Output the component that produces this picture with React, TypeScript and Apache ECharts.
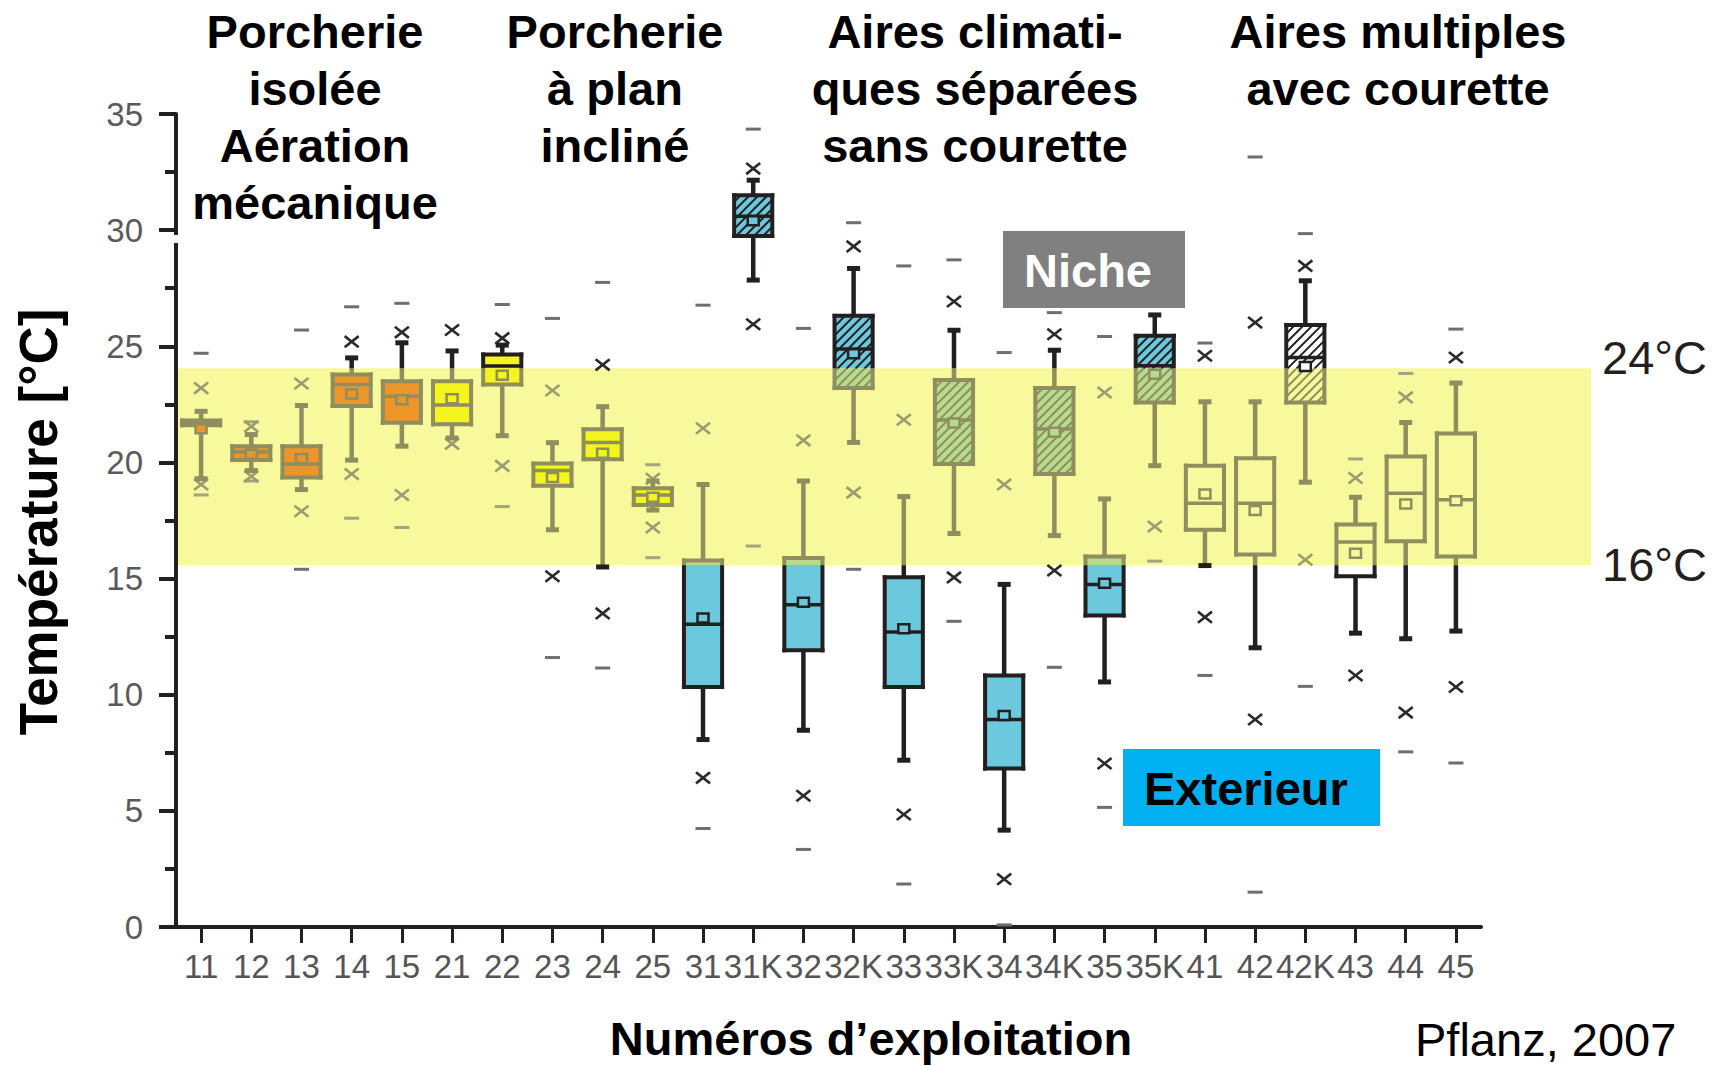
import React, { useEffect, useRef } from "react";
import * as echarts from "echarts";

// ---------- data ----------
const categories = ["11", "12", "13", "14", "15", "21", "22", "23", "24", "25", "31", "31K", "32", "32K", "33", "33K", "34", "34K", "35", "35K", "41", "42", "42K", "43", "44", "45"];
const whiskerLow = [19.3, 19.65, 18.83, 20.1, 20.7, 21.05, 21.15, 17.1, 15.5, 17.95, 8.07, 27.85, 8.47, 20.86, 7.18, 16.94, 4.17, 16.85, 10.55, 19.86, 15.56, 12.02, 19.15, 12.65, 12.41, 12.74];
const q1 = [21.6, 20.1, 19.35, 22.43, 21.71, 21.64, 23.35, 19.0, 20.14, 18.17, 10.33, 29.75, 11.91, 23.2, 10.33, 19.93, 6.82, 19.5, 13.41, 22.58, 17.1, 16.04, 22.58, 15.1, 16.61, 15.95];
const median = [21.7, 20.45, 19.93, 23.35, 22.85, 22.47, 24.15, 19.65, 20.86, 18.6, 13.03, 30.6, 13.87, 24.88, 12.7, 21.83, 8.93, 21.44, 14.75, 24.16, 18.24, 18.24, 24.52, 16.57, 18.67, 18.39];
const q3 = [21.8, 20.7, 20.7, 23.79, 23.5, 23.5, 24.65, 19.95, 21.43, 18.89, 15.78, 31.5, 15.89, 26.31, 15.06, 23.55, 10.83, 23.2, 15.95, 25.45, 19.86, 20.18, 25.92, 17.33, 20.25, 21.25];
const whiskerHigh = [22.2, 21.2, 22.45, 24.5, 25.15, 24.8, 25.05, 20.85, 22.4, 19.2, 19.05, 32.15, 19.2, 28.35, 18.53, 25.69, 14.75, 24.83, 18.43, 26.35, 22.61, 22.61, 27.82, 18.5, 21.72, 23.42];
const mean = [21.45, 20.35, 20.17, 22.95, 22.7, 22.74, 23.75, 19.35, 20.4, 18.5, 13.3, 30.4, 13.98, 24.68, 12.84, 21.7, 9.1, 21.3, 14.8, 23.8, 18.64, 17.93, 24.13, 16.09, 18.21, 18.35];
const crossLow = [19.05, 19.4, 17.9, 19.5, 18.6, 20.8, 19.85, 15.1, 13.5, 17.2, 6.42, 25.95, 5.65, 18.7, 4.84, 15.05, 2.06, 15.35, 7.04, 17.24, 13.34, 8.93, 15.81, 10.83, 9.23, 10.33];
const crossHigh = [23.2, 21.55, 23.4, 25.2, 25.6, 25.7, 25.35, 23.1, 24.2, 19.3, 21.47, 32.65, 20.95, 29.3, 21.84, 26.93, 19.05, 25.52, 23.01, 27.6, 24.59, 26.02, 28.46, 19.33, 22.8, 24.52];
const dashLow: (number | null)[] = [18.6, 19.2, 15.4, 17.6, 17.2, null, 18.1, 11.6, 11.15, 15.9, 4.24, 16.4, 3.34, 15.4, 1.85, 13.16, 0.09, 11.18, 5.15, 15.75, 10.83, 1.5, 10.36, null, 7.54, 7.06];
const dashHigh: (number | null)[] = [24.7, 21.75, 25.7, 26.7, 26.85, null, 26.8, 26.2, 27.75, 19.9, 26.77, 34.35, 25.77, 30.32, 28.46, 28.72, 24.73, 26.45, 25.42, 29.0, 25.14, 33.15, 29.85, 20.15, 23.83, 25.74];
const fillKind = ["orange", "orange", "orange", "orange", "orange", "yellow", "yellow", "yellow", "yellow", "yellow", "blue", "blue", "blue", "blue", "blue", "blue", "blue", "blue", "blue", "blue", "white", "white", "white", "white", "white", "white"];
const hatched = [false, false, false, false, false, false, false, false, false, false, false, true, false, true, false, true, false, true, false, true, false, false, true, false, false, false];
const comfortBand = [15.58, 24.05];
const bandLabels = ["24°C", "16°C"];
const groupTitles = [
  "Porcherie\nisolée\nAération\nmécanique",
  "Porcherie\nà plan\nincliné",
  "Aires climati-\nques séparées\nsans courette",
  "Aires multiples\navec courette",
];
const yAxisTitle = "Température [°C]";
const xAxisTitle = "Numéros d’exploitation";
const sourceText = "Pflanz, 2007";
const boxLabels = ["Niche", "Exterieur"];

// ---------- styles ----------
const FONT = '"Liberation Sans", Arial, Helvetica, sans-serif';
const LINE_OUT = "#231F20";
const LINE_IN = "#8F8E5E";
const CROSS_OUT = "#2A2A2A";
const CROSS_IN = "#9B9B72";
const DASH_OUT = "#6E6E6E";
const DASH_IN = "#A4A482";
const BAND_COLOR = "#F8F99C";
const FILLS: Record<string, [string, string]> = {
  orange: ["#EC962A", "#EC962A"],
  yellow: ["#F4F41E", "#F4F41E"],
  blue: ["#6CC8DC", "#B6DB8D"],
  white: ["#FFFFFF", BAND_COLOR],
};

const BL = comfortBand[0];
const BH = comfortBand[1];
const inBand = (v: number) => v >= BL && v <= BH;

function pieces(a: number, b: number) {
  const lo0 = Math.min(a, b);
  const hi0 = Math.max(a, b);
  const cuts = [lo0];
  for (const c of [BL, BH]) if (c > lo0 && c < hi0) cuts.push(c);
  cuts.push(hi0);
  const out: { lo: number; hi: number; inBand: boolean }[] = [];
  for (let k = 0; k < cuts.length - 1; k++) {
    const lo = cuts[k];
    const hi = cuts[k + 1];
    out.push({ lo, hi, inBand: inBand((lo + hi) / 2) });
  }
  return out;
}

function renderItem(params: any, api: any) {
  const i = params.dataIndex;
  const cx = api.coord([i, 0])[0];
  const bw = api.size([1, 0])[0];
  const hw = bw * 0.38;
  const Y = (v: number) => api.coord([i, v])[1];
  const kids: any[] = [];
  const line = (x1: number, y1: number, x2: number, y2: number, stroke: string, lw: number) =>
    kids.push({ type: "line", shape: { x1, y1, x2, y2 }, style: { stroke, lineWidth: lw, lineCap: "butt" } });
  const lc = (v: number) => (inBand(v) ? LINE_IN : LINE_OUT);
  const fills = FILLS[fillKind[i]];
  const fc = (v: number) => (inBand(v) ? fills[1] : fills[0]);

  // outliers: dashes & crosses
  for (const d of [dashLow[i], dashHigh[i]]) {
    if (d == null) continue;
    const y = Y(d);
    line(cx - bw * 0.15, y, cx + bw * 0.15, y, inBand(d) ? DASH_IN : DASH_OUT, 3);
  }
  for (const c of [crossLow[i], crossHigh[i]]) {
    const y = Y(c);
    const col = inBand(c) ? CROSS_IN : CROSS_OUT;
    const a = bw * 0.14;
    const b = bw * 0.11;
    line(cx - a, y - b, cx + a, y + b, col, 2.6);
    line(cx - a, y + b, cx + a, y - b, col, 2.6);
  }

  // whiskers
  for (const [a, b] of [[q3[i], whiskerHigh[i]], [whiskerLow[i], q1[i]]]) {
    for (const s of pieces(a, b)) line(cx, Y(s.lo), cx, Y(s.hi), s.inBand ? LINE_IN : LINE_OUT, 4.5);
  }
  for (const w of [whiskerLow[i], whiskerHigh[i]]) {
    const y = Y(w);
    line(cx - bw * 0.13, y, cx + bw * 0.13, y, lc(w), 5);
  }

  // box body
  const x0 = cx - hw;
  const x1 = cx + hw;
  for (const s of pieces(q1[i], q3[i])) {
    const yt = Y(s.hi);
    const yb = Y(s.lo);
    kids.push({
      type: "rect",
      shape: { x: x0, y: yt, width: x1 - x0, height: yb - yt },
      style: { fill: s.inBand ? fills[1] : fills[0] },
    });
    if (hatched[i]) {
      const st = 9;
      const col = s.inBand ? LINE_IN : LINE_OUT;
      const cStart = Math.ceil((x0 + yt) / st) * st;
      for (let c = cStart; c <= x1 + yb; c += st) {
        const yA = Math.max(yt, c - x1);
        const yB = Math.min(yb, c - x0);
        if (yB - yA > 0.5) line(c - yA, yA, c - yB, yB, col, 2);
      }
    }
  }
  // box sides
  for (const s of pieces(q1[i], q3[i])) {
    const col = s.inBand ? LINE_IN : LINE_OUT;
    const yt = Y(s.hi) - (s.hi === q3[i] ? 2 : 0);
    const yb = Y(s.lo) + (s.lo === q1[i] ? 2 : 0);
    line(x0, yt, x0, yb, col, 4);
    line(x1, yt, x1, yb, col, 4);
  }
  // top & bottom edges
  for (const v of [q1[i], q3[i]]) {
    const y = Y(v);
    line(x0 - 2, y, x1 + 2, y, lc(v), 4);
  }
  // median
  line(x0, Y(median[i]), x1, Y(median[i]), lc(median[i]), 3.5);
  // mean square
  const my = Y(mean[i]);
  kids.push({
    type: "rect",
    shape: { x: cx - 5.5, y: my - 4.5, width: 11, height: 9 },
    style: { fill: fc(mean[i]), stroke: lc(mean[i]), lineWidth: 2.5 },
  });

  return { type: "group", children: kids };
}

function textEl(text: string, x: number, y: number, opts: any = {}) {
  const { rotation, ...style } = opts;
  const el: any = {
    type: "text",
    x,
    y,
    z: 100,
    style: {
      text,
      fill: "#000",
      fontFamily: FONT,
      fontSize: 47,
      fontWeight: "bold",
      textAlign: "center",
      textVerticalAlign: "middle",
      align: "center",
      verticalAlign: "middle",
      ...style,
    },
  };
  if (rotation) el.rotation = rotation;
  return el;
}

export default function App() {
  const ref = useRef<HTMLDivElement>(null);
  useEffect(() => {
    document.body.style.margin = "0";
    if (!ref.current) return;
    const chart = echarts.init(ref.current, null, { renderer: "svg" });
    const seriesData = categories.map((_, i) => [i, whiskerLow[i], q1[i], median[i], q3[i], whiskerHigh[i]]);

    const titleTop = { textVerticalAlign: "top", verticalAlign: "top", lineHeight: 57 };
    chart.setOption({
      animation: false,
      backgroundColor: "#ffffff",
      grid: { left: 176, right: 242, top: 114, bottom: 139 },
      xAxis: {
        type: "category",
        data: categories,
        boundaryGap: true,
        axisLine: { show: true, lineStyle: { color: "#231F20", width: 4 } },
        axisTick: { show: true, alignWithLabel: true, length: 16, lineStyle: { color: "#231F20", width: 3 } },
        axisLabel: { interval: 0, hideOverlap: false, fontSize: 33, color: "#555555", margin: 23, fontFamily: FONT },
        splitLine: { show: false },
      },
      yAxis: {
        type: "value",
        min: 0,
        max: 35,
        interval: 5,
        axisLine: { show: true, lineStyle: { color: "#231F20", width: 4 } },
        axisTick: { show: true, length: 17, lineStyle: { color: "#231F20", width: 4 } },
        minorTick: { show: true, splitNumber: 2, length: 11, lineStyle: { color: "#231F20", width: 4 } },
        axisLabel: { fontSize: 33, color: "#5a5a5a", margin: 33, fontFamily: FONT },
        splitLine: { show: false },
        minorSplitLine: { show: false },
      },
      series: [
        {
          type: "custom",
          data: seriesData,
          encode: { x: 0, y: [1, 2, 3, 4, 5] },
          renderItem,
          clip: false,
          silent: true,
          z: 2,
          markArea: {
            silent: true,
            z: 1,
            itemStyle: { color: BAND_COLOR, opacity: 1 },
            label: { show: false },
            data: [[{ yAxis: comfortBand[1], x: 178 }, { yAxis: comfortBand[0], x: 1591 }]],
          },
        },
      ],
      graphic: [
        // small break in the y axis line just under the 30 tick
        { type: "rect", z: 50, shape: { x: 171, y: 235, width: 10, height: 8 }, style: { fill: "#ffffff" } },
        textEl(groupTitles[0], 315, 2.5, titleTop),
        textEl(groupTitles[1], 615, 2.5, titleTop),
        textEl(groupTitles[2], 975, 2.5, titleTop),
        textEl(groupTitles[3], 1398, 2.5, titleTop),
        {
          type: "rect",
          z: 99,
          shape: { x: 1003, y: 231, width: 182, height: 77 },
          style: { fill: "#808080" },
        },
        textEl(boxLabels[0], 1024, 270, { fill: "#ffffff", textAlign: "left", align: "left" }),
        {
          type: "rect",
          z: 99,
          shape: { x: 1123, y: 749, width: 257, height: 77 },
          style: { fill: "#00B0F0" },
        },
        textEl(boxLabels[1], 1144, 788, { fill: "#000000", textAlign: "left", align: "left" }),
        textEl(bandLabels[0], 1602, 357, { fontWeight: "normal", fill: "#231F20", textAlign: "left", align: "left" }),
        textEl(bandLabels[1], 1602, 564, { fontWeight: "normal", fill: "#231F20", textAlign: "left", align: "left" }),
        textEl(yAxisTitle, 38, 522, { fontSize: 53, rotation: Math.PI / 2 }),
        textEl(xAxisTitle, 871, 1038, { fontSize: 47 }),
        textEl(sourceText, 1415, 1039, { fontWeight: "normal", fontSize: 47, textAlign: "left", align: "left" }),
      ],
    });
    return () => chart.dispose();
  }, []);
  return <div ref={ref} style={{ width: 1723, height: 1066 }} />;
}
